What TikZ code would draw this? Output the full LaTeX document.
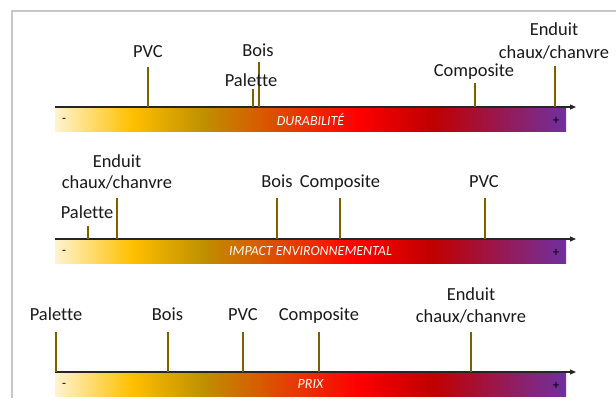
\documentclass[tikz,border=0pt]{standalone}
\usepackage{fontspec}
\setmainfont[Ligatures=NoCommon]{Carlito}
\usetikzlibrary{arrows.meta}
\definecolor{cream}{RGB}{255,243,208}
\definecolor{goldA}{RGB}{255,192,0}
\definecolor{goldB}{RGB}{191,144,0}
\definecolor{redA}{RGB}{255,0,0}
\definecolor{redB}{RGB}{192,0,0}
\definecolor{purp}{RGB}{112,48,160}
\definecolor{tickcol}{RGB}{127,96,0}
\definecolor{framecol}{RGB}{200,200,200}
\pgfdeclarehorizontalshading{heat}{100bp}{color(0bp)=(cream); color(25bp)=(cream); color(32.5bp)=(goldA); color(39.5bp)=(goldB); color(54.5bp)=(redA); color(62bp)=(redB); color(75bp)=(purp); color(100bp)=(purp)}
\tikzset{
  lab/.style={font=\fontsize{18.5}{21}\selectfont, anchor=base, inner sep=0pt, text=black!90},
  tickline/.style={draw=tickcol, line width=2bp},
  axisline/.style={draw=black!85, line width=1.2bp, -{Triangle[length=6bp,width=5bp]}},
  barlab/.style={font=\fontsize{14}{16}\selectfont\itshape, text=white!95!yellow, inner sep=0pt},
  pm/.style={font=\fontsize{13}{15}\selectfont, text=black, inner sep=0pt},
  heatbar/.style={shading=heat},
  framel/.style={draw=framecol, line width=2bp}
}
\begin{document}
\begin{tikzpicture}[x=1bp,y=-1bp]
\useasboundingbox (0,0) rectangle (616,398);
% frame
\coordinate (fA) at (616,10.5);
\coordinate (fB) at (11.5,10.5);
\coordinate (fC) at (11.5,398);
\draw[framel] (fA) -- (fB) -- (fC);

% ===== Bar 1: DURABILITE =====
\shade[heatbar] (55,108) rectangle (566,131.5);
\coordinate (a1s) at (55,107);
\coordinate (a1e) at (576,107);
\draw[axisline] (a1s) -- (a1e);
\node[barlab] (b1) at (310.5,119.5) {DURABILITÉ};
\node[pm] (m1) at (64,120) {-};
\node[pm] (p1) at (556,120.5) {+};

\coordinate (t1a) at (148,67);   \coordinate (t1ab) at (148,107);
\coordinate (t1b) at (258.5,62); \coordinate (t1bb) at (258.5,107);
\coordinate (t1c) at (252.5,89); \coordinate (t1cb) at (252.5,107);
\coordinate (t1d) at (475,83);   \coordinate (t1db) at (475,107);
\coordinate (t1e) at (554.5,66); \coordinate (t1eb) at (554.5,107);
\draw[tickline] (t1ab) -- (t1a);
\draw[tickline] (t1bb) -- (t1b);
\draw[tickline] (t1cb) -- (t1c);
\draw[tickline] (t1db) -- (t1d);
\draw[tickline] (t1eb) -- (t1e);
\node[lab] (l1a) at (148,57.5) {PVC};
\node[lab] (l1b) at (258,56.5) {Bois};
\node[lab] (l1c) at (251,86.5) {Palette};
\node[lab] (l1d) at (474,76.5) {Composite};
\node[lab] (l1e) at (554,35.5) {Enduit};
\node[lab] (l1f) at (554,58) {chaux/chanvre};

% ===== Bar 2: IMPACT =====
\shade[heatbar] (55,240) rectangle (566,263.5);
\coordinate (a2s) at (55,239);
\coordinate (a2e) at (576,239);
\draw[axisline] (a2s) -- (a2e);
\node[barlab] (b2) at (310.5,251.5) {IMPACT ENVIRONNEMENTAL};
\node[pm] (m2) at (64,252) {-};
\node[pm] (p2) at (556,252.5) {+};

\coordinate (t2a) at (88,226);   \coordinate (t2ab) at (88,239);
\coordinate (t2b) at (117,198);  \coordinate (t2bb) at (117,239);
\coordinate (t2c) at (277,198);  \coordinate (t2cb) at (277,239);
\coordinate (t2d) at (340,198);  \coordinate (t2db) at (340,239);
\coordinate (t2e) at (484.5,198);\coordinate (t2eb) at (484.5,239);
\draw[tickline] (t2ab) -- (t2a);
\draw[tickline] (t2bb) -- (t2b);
\draw[tickline] (t2cb) -- (t2c);
\draw[tickline] (t2db) -- (t2d);
\draw[tickline] (t2eb) -- (t2e);
\node[lab] (l2a) at (87,218.5) {Palette};
\node[lab] (l2b) at (117,167.5) {Enduit};
\node[lab] (l2c) at (117,188.5) {chaux/chanvre};
\node[lab] (l2d) at (277,187.5) {Bois};
\node[lab] (l2e) at (340,187.5) {Composite};
\node[lab] (l2f) at (484,187.5) {PVC};

% ===== Bar 3: PRIX =====
\shade[heatbar] (55,373) rectangle (566,396.5);
\coordinate (a3s) at (55,372);
\coordinate (a3e) at (576,372);
\draw[axisline] (a3s) -- (a3e);
\node[barlab] (b3) at (310.5,384) {PRIX};
\node[pm] (m3) at (64,385) {-};
\node[pm] (p3) at (556,385.5) {+};

\coordinate (t3a) at (56,332);   \coordinate (t3ab) at (56,372);
\coordinate (t3b) at (167.5,332);\coordinate (t3bb) at (167.5,372);
\coordinate (t3c) at (243,332);  \coordinate (t3cb) at (243,372);
\coordinate (t3d) at (319,332);  \coordinate (t3db) at (319,372);
\coordinate (t3e) at (471,332);  \coordinate (t3eb) at (471,372);
\draw[tickline] (t3ab) -- (t3a);
\draw[tickline] (t3bb) -- (t3b);
\draw[tickline] (t3cb) -- (t3c);
\draw[tickline] (t3db) -- (t3d);
\draw[tickline] (t3eb) -- (t3e);
\node[lab] (l3a) at (56,320.5) {Palette};
\node[lab] (l3b) at (167.5,320.5) {Bois};
\node[lab] (l3c) at (243,320.5) {PVC};
\node[lab] (l3d) at (319,320.5) {Composite};
\node[lab] (l3e) at (471,300.5) {Enduit};
\node[lab] (l3f) at (471,322.5) {chaux/chanvre};
\end{tikzpicture}
\end{document}
